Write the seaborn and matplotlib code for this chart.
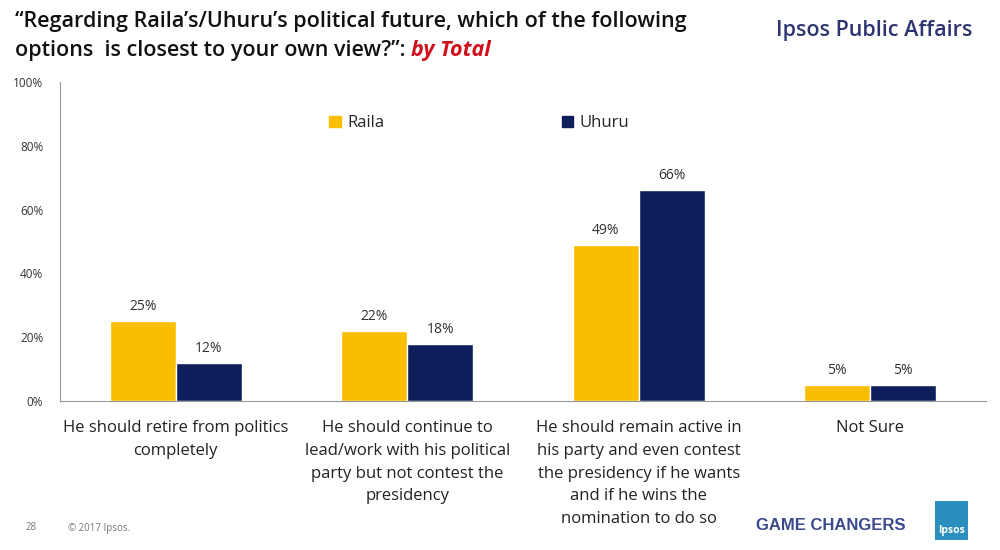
import matplotlib
matplotlib.use("Agg")
import matplotlib.pyplot as plt
import matplotlib.patches as mpatches
import seaborn as sns
import pandas as pd

categories = [
    "He should retire from politics\ncompletely",
    "He should continue to\nlead/work with his political\nparty but not contest the\npresidency",
    "He should remain active in\nhis party and even contest\nthe presidency if he wants\nand if he wins the\nnomination to do so",
    "Not Sure",
]
raila = [25, 22, 49, 5]
uhuru = [12, 18, 66, 5]
series = ["Raila", "Uhuru"]
colors = ["#F9BE00", "#0E1E5B"]

df = pd.DataFrame({
    "category": categories * 2,
    "value": raila + uhuru,
    "who": ["Raila"] * len(raila) + ["Uhuru"] * len(uhuru),
})

sns.set_style("white")
plt.rcParams["font.family"] = ["Open Sans", "DejaVu Sans"]

fig = plt.figure(figsize=(10, 5.5), dpi=100)
ax = fig.add_axes([0.06, 0.271, 0.926, 0.58])

sns.barplot(data=df, x="category", y="value", hue="who", hue_order=series,
            palette=colors, width=0.57, saturation=1, ax=ax, legend=False)

for cont in ax.containers:
    ax.bar_label(cont, labels=[f"{v:.0f}%" for v in cont.datavalues],
                 padding=5, fontsize=10, color="#333333")

ax.set_ylim(0, 100)
ax.set_xlim(-0.5, 3.5)
ax.set_yticks([0, 20, 40, 60, 80, 100])
ax.set_yticklabels([f"{t}%" for t in [0, 20, 40, 60, 80, 100]], fontsize=8.5, color="#333333")
ax.tick_params(axis="y", length=4, color="#888888", pad=8)
ax.tick_params(axis="x", length=0, labelsize=12, pad=14, colors="#222222")
for lbl in ax.get_xticklabels():
    lbl.set_linespacing(1.55)
ax.set_xlabel("")
ax.set_ylabel("")
for s in ["top", "right"]:
    ax.spines[s].set_visible(False)
for s in ["left", "bottom"]:
    ax.spines[s].set_color("#999999")
    ax.spines[s].set_linewidth(0.8)

handles = [mpatches.Patch(color=c, label=s) for s, c in zip(series, colors)]
ax.legend(handles=handles, ncol=2, loc="center", bbox_to_anchor=(0.453, 0.87),
          frameon=False, fontsize=12, handlelength=0.7, handleheight=0.7,
          handletextpad=0.4, columnspacing=10.6)

# title
fig.text(0.015, 0.96, "\u201cRegarding Raila\u2019s/Uhuru\u2019s political future, which of the following",
         fontsize=15.5, fontweight="semibold", color="#111111", va="center")
t1 = fig.text(0.015, 0.908, "options  is closest to your own view?\u201d: ",
              fontsize=15.5, fontweight="semibold", color="#111111", va="center")
fig.canvas.draw()
bb = t1.get_window_extent()
fig.text(bb.x1 / fig.bbox.width, 0.908, "by Total", fontsize=15.5, fontweight="bold",
         fontstyle="italic", color="#D0101B", va="center")
fig.text(0.972, 0.945, "Ipsos Public Affairs", fontsize=15.5, fontweight="semibold",
         color="#2E3470", ha="right", va="center")

# footer
fig.text(0.026, 0.04, "28", fontsize=7, color="#777777", va="center")
fig.text(0.068, 0.04, "\u00a9 2017 Ipsos.", fontsize=7, color="#777777", va="center")
fig.text(0.905, 0.045, "GAME CHANGERS", fontsize=12, fontweight="bold",
         color="#3B4A8C", ha="right", va="center", family=["Liberation Sans", "DejaVu Sans"])
logo = mpatches.FancyBboxPatch((0.935, 0.018), 0.033, 0.072, boxstyle="square,pad=0",
                               transform=fig.transFigure, facecolor="#2A8FBF", edgecolor="none")
fig.patches.append(logo)
fig.text(0.9515, 0.035, "Ipsos", fontsize=7.5, fontweight="bold", color="white",
         ha="center", va="center")

fig.savefig("out.png", dpi=100)
